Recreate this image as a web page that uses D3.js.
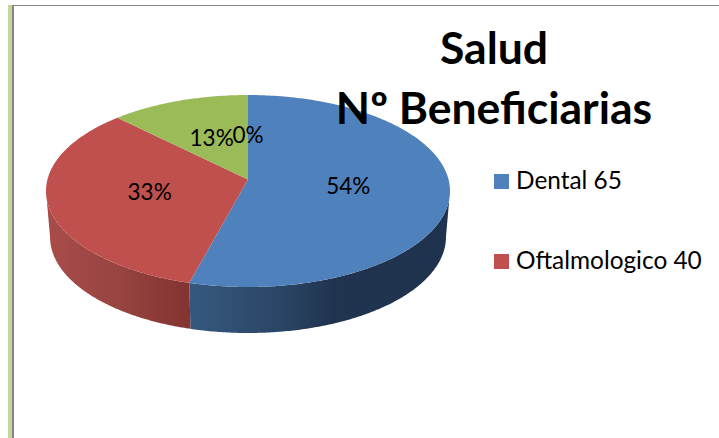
<!DOCTYPE html>
<html>
<head>
<meta charset="utf-8">
<script src="https://cdn.jsdelivr.net/npm/d3@7"></script>
<style>
html,body{margin:0;padding:0;background:#fff;overflow:hidden}
svg{display:block}
text{font-family:Lato,"Open Sans",sans-serif;fill:#000}
</style>
</head>
<body>
<svg id="c" width="719" height="438"></svg>
<script>
const values = [65, 40, 15, 0];
const percentLabels = ["54%", "33%", "13%", "0%"];
const colors = ["#4f81bd", "#c0504d", "#9bbb59", "#8064a2"];
const legendLabels = ["Dental 65", "Oftalmologico 40"];
const titleLines = ["Salud", "Nº Beneficiarias"];

const svg = d3.select("#c");
const persp = 0.12, depth = 46, shrink = 0.98, labelR = 0.5;

// frame
svg.append("rect").attr("x",8).attr("y",5).attr("width",4).attr("height",433).attr("fill","#c3d69b");
svg.append("rect").attr("x",12).attr("y",5).attr("width",2).attr("height",433).attr("fill","#868686");
svg.append("rect").attr("x",12).attr("y",5).attr("width",707).attr("height",1).attr("fill","#868686");

const TAU = Math.PI*2;
const raw = (a,r=1)=>{
  const X=r*Math.sin(a), Y=r*Math.cos(a), w=1+persp*Y;
  return [X/w, Y/w];
};
const samples = d3.range(0,TAU,TAU/720).map(a=>raw(a));
const xS = d3.scaleLinear().domain(d3.extent(samples,d=>d[0])).range([46,450]);
const yS = d3.scaleLinear().domain(d3.extent(samples,d=>d[1])).range([287,95]);
const cx = xS(0);
const face = (a,r=1)=>{const p=raw(a,r);return [xS(p[0]),yS(p[1])];};
const bot = a=>{const p=face(a);return [cx+(p[0]-cx)*shrink,p[1]+depth];};
const arcAngles = (a0,a1)=>{
  const n=Math.max(2,Math.ceil((a1-a0)/0.01));
  return d3.range(n+1).map(i=>a0+(a1-a0)*i/n);
};
const line = d3.line();
const pie = d3.pie().sort(null)(values);

// side gradients
const defs = svg.append("defs");
const grad = (id,x1,x2,stops)=>{
  const g=defs.append("linearGradient").attr("id",id).attr("gradientUnits","userSpaceOnUse")
    .attr("x1",x1).attr("x2",x2).attr("y1",0).attr("y2",0);
  stops.forEach(s=>g.append("stop").attr("offset",s[0]).attr("stop-color",s[1]));
};
grad("side0",190,450,[[0,"#36587f"],[0.35,"#2a4565"],[0.55,"#20344f"],[1,"#1f334e"]]);
grad("side1",46,190,[[0,"#a84c49"],[0.5,"#984441"],[1,"#833330"]]);

// extruded wall, visible only on the front half
const edge = Math.asin(persp);
const frontA = Math.PI/2+edge, frontB = Math.PI*1.5-edge;
pie.forEach((d,i)=>{
  const a0=Math.max(d.startAngle,frontA), a1=Math.min(d.endAngle,frontB);
  if(a1<=a0) return;
  const as=arcAngles(a0,a1);
  const pts=as.map(a=>face(a)).concat(as.slice().reverse().map(a=>bot(a)));
  svg.append("path").attr("d",line(pts)+"Z").attr("fill",`url(#side${i})`);
});

// top face
pie.forEach((d,i)=>{
  if(d.endAngle<=d.startAngle) return;
  const pts=[face(0,0)].concat(arcAngles(d.startAngle,d.endAngle).map(a=>face(a)));
  svg.append("path").attr("d",line(pts)+"Z").attr("fill",colors[i]);
});

// percent labels
pie.forEach((d,i)=>{
  const p=face((d.startAngle+d.endAngle)/2,labelR);
  svg.append("text").attr("x",p[0]).attr("y",p[1]+8).attr("text-anchor","middle")
    .attr("font-size",22.5).text(percentLabels[i]);
});

// title
titleLines.forEach((t,i)=>{
  svg.append("text").attr("x",494).attr("y",64+i*60).attr("text-anchor","middle")
    .attr("font-size",44.5).attr("font-weight",700).text(t);
});

// legend
const legendY = d3.scalePoint().domain(legendLabels).range([181.5,261.5]);
legendLabels.forEach((t,i)=>{
  const y=legendY(t);
  svg.append("rect").attr("x",494).attr("y",y-7.5).attr("width",15).attr("height",15).attr("fill",colors[i]);
  svg.append("text").attr("x",516).attr("y",y+7).attr("font-size",24.4).text(t);
});
</script>
</body>
</html>
